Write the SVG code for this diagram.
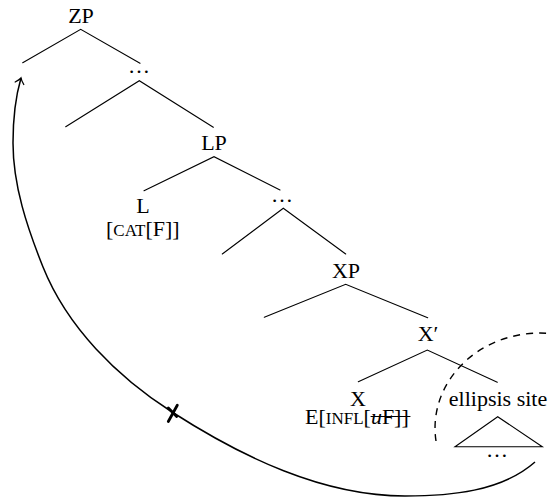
<svg xmlns="http://www.w3.org/2000/svg" width="549" height="499" viewBox="0 0 549 499">
<style>
text{font-family:"Liberation Serif","Times New Roman",serif;font-size:22px;fill:#000}
.m{text-anchor:middle}
.sc{font-size:17px}
.e{stroke:#000;stroke-width:1.1;fill:none;stroke-linecap:round}
.mv{stroke:#000;stroke-width:1.5;fill:none}
.dash{stroke:#000;stroke-width:1.4;fill:none;stroke-dasharray:7 6}
.x{stroke:#000;stroke-width:2.8;stroke-linecap:round}
</style>
<defs>
<marker id="arr" markerUnits="userSpaceOnUse" markerWidth="14" markerHeight="14" refX="0" refY="0" viewBox="-7 -7 14 14" orient="auto" overflow="visible">
<path d="M-5.5,-4.5 Q-2,-1 0,0 Q-2,1 -5.5,4.5" stroke="#000" stroke-width="1.3" fill="none" stroke-linecap="round"/>
</marker>
</defs>
<g id="n-ZP"><text class="m" x="81" y="23">ZP</text></g>
<g id="n-dots1"><text class="m" x="139" y="73">…</text></g>
<g id="n-LP"><text class="m" x="214" y="150">LP</text></g>
<g id="n-L"><text class="m" x="143" y="213">L</text><text x="106" y="236">[<tspan class="sc">CAT</tspan>[F]]</text></g>
<g id="n-dots2"><text class="m" x="282" y="202">…</text></g>
<g id="n-XP"><text class="m" x="346" y="278">XP</text></g>
<g id="n-Xbar"><text class="m" x="428" y="341">X′</text></g>
<g id="n-X"><text class="m" x="358" y="406">X</text><text x="305" y="423.5">E[<tspan class="sc">INFL</tspan>[<tspan font-style="italic">u</tspan>F]]</text><line class="e" x1="371" y1="416.5" x2="410" y2="416.5"/></g>
<g id="n-ellipsis"><text class="m" x="498" y="406">ellipsis site</text><path class="e" d="M497.7,416.7 L455,446.7 L542.3,446.7 Z"/><text class="m" x="497" y="457">…</text></g>
<g id="connectors">
<path class="e" d="M22.7,62.7 L80.7,29.3 L140,63.3"/>
<path class="e" d="M65.7,126.7 L139.3,80.7 L213.3,127.3"/>
<path class="e" d="M144,190.7 L214,156.7 L280,190"/>
<path class="e" d="M222.3,254 L283.3,208.3 L345.7,254"/>
<path class="e" d="M264.3,317.3 L345.7,284.3 L427.7,317.7"/>
<path class="e" d="M358.3,381.7 L427.3,350 L497.3,382.3"/>
<path class="dash" d="M436,441 A105 95 0 0 1 549,333.4"/>
<path class="mv" marker-end="url(#arr)" d="M535,462 C501.3,491.7 450,496 405,496 C322.4,496 241.5,456.7 172,412 C117.3,376.8 67.2,327.3 43,267 C27.2,227.6 13,185.5 13,143 C13,121.2 14.9,98.9 21,78"/>
<line class="x" x1="177.3" y1="405.3" x2="168.3" y2="421.5"/>
<line class="x" x1="168.3" y1="408" x2="176.7" y2="416.5"/>
</g>
</svg>
